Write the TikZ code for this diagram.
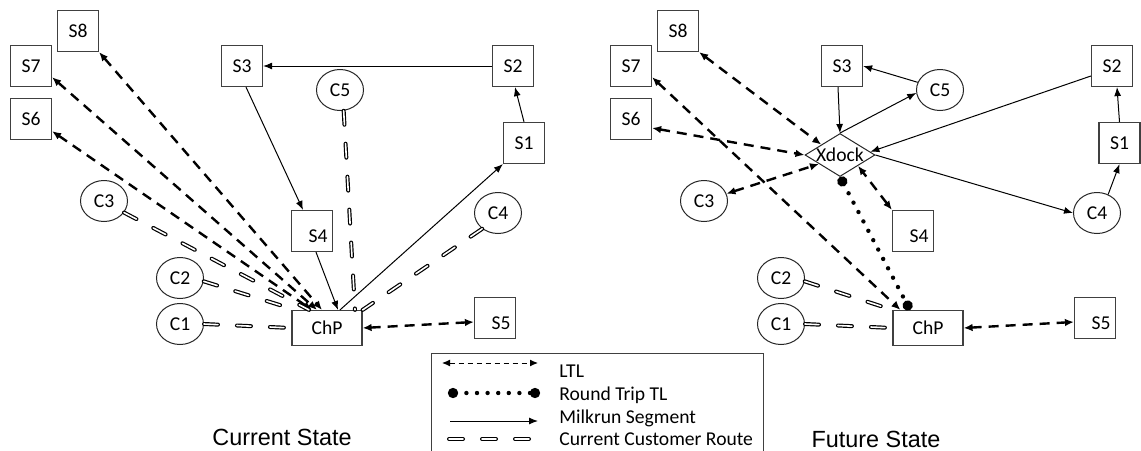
\documentclass[tikz,border=0pt]{standalone}
\usepackage{fontspec}
\setmainfont{Carlito}
\newfontfamily\arialfont{Liberation Sans}
\usetikzlibrary{positioning, arrows.meta, shapes.geometric, calc}

\newcommand{\lowright}[1]{\raisebox{-2.5pt}[6pt][0pt]{\hspace*{6pt}#1}}

\begin{document}
\begin{tikzpicture}[
    x=0.5pt, y=-0.5pt,
    font=\fontsize{9.8}{11.5}\selectfont,
    supbox/.style={draw=black!75, line width=0.6pt, rectangle, minimum size=20.5pt, inner sep=0pt},
    custnode/.style={draw=black!85, line width=0.5pt, ellipse, minimum width=23.5pt, minimum height=20.5pt, inner sep=0pt},
    hubbox/.style={draw=black!75, line width=0.6pt, rectangle, minimum width=35pt, minimum height=17.5pt, inner sep=0pt},
    dockbox/.style={draw=black!85, line width=0.5pt, diamond, aspect=1.63, minimum width=35pt, minimum height=21.5pt, inner sep=0pt},
    ltl/.style={{Latex[length=4.5pt,width=3.8pt]}-{Latex[length=4.5pt,width=3.8pt]}, line width=1.2pt, dash pattern=on 5pt off 3.5pt},
    ltlkey/.style={{Latex[length=4pt,width=3.5pt]}-{Latex[length=4pt,width=3.5pt]}, line width=0.5pt, dash pattern=on 2.5pt off 2pt},
    milk/.style={-{Latex[length=4.5pt,width=3.5pt]}, line width=0.5pt},
    route/.style={draw=black, line width=0.6pt, double=white, double distance=0.8pt, line cap=round, dash pattern=on 7pt off 9.5pt},
    trip/.style={line width=2.2pt, line cap=round, dash pattern=on 0pt off 5.3pt, {Circle[length=5pt]}-{Circle[length=5pt]}},
    stitle/.style={font=\arialfont\fontsize{11.7}{14}\selectfont}
]
    \useasboundingbox (0,0) rectangle (1141,450);

    % current state
    \node[supbox] (s8L) at (78,31) {S8};
    \node[supbox] (s7L) at (31,66) {S7};
    \node[supbox] (s6L) at (31,119) {S6};
    \node[supbox] (s3L) at (242,66) {S3};
    \node[supbox] (s2L) at (513,66) {S2};
    \node[supbox] (s1L) at (524,143) {S1};
    \node[supbox] (s4L) at (312,231) {\lowright{S4}};
    \node[supbox] (s5L) at (495,318) {\lowright{S5}};
    \node[custnode] (c5L) at (340,90) {C5};
    \node[custnode] (c3L) at (104,201) {C3};
    \node[custnode] (c4L) at (498,213) {C4};
    \node[custnode] (c2L) at (180,278) {C2};
    \node[custnode] (c1L) at (180,324) {C1};
    \node[hubbox] (chpL) at (327,328) {ChP};

    \draw[ltl] (s8L.south east) -- ($(chpL.north)+(-5,0)$);
    \draw[ltl] (s7L.-28) -- ($(chpL.north)+(-10,0)$);
    \draw[ltl] (s6L.-30) -- ($(chpL.north)+(-15,0)$);
    \draw[ltl] (chpL.east) -- ($(s5L.west)+(0,4)$);
    \draw[route] (c3L.-30) -- ($(chpL.north)+(-18,0)$);
    \draw[route] (c2L.-8) -- ($(chpL.north west)+(4,0)$);
    \draw[route] (c1L.east) -- (chpL.west);
    \draw[route] (c5L.-80) -- ($(chpL.north)+(28,0)$);
    \draw[route] (c4L.-135) -- (chpL.north east);
    \draw[milk] ($(chpL.north)+(13,0)$) -- (s1L.south west);
    \draw[milk] (s1L.north) -- ($(s2L.south)+(2,0)$);
    \draw[milk] (s2L.west) -- (s3L.east);
    \draw[milk] ($(s3L.south)+(4,0)$) -- ($(s4L.north)+(-9,0)$);
    \draw[milk] ($(s4L.south)+(4,0)$) -- ($(chpL.north)+(11,0)$);

    % future state
    \node[supbox] (s8R) at (678,31) {S8};
    \node[supbox] (s7R) at (631,66) {S7};
    \node[supbox] (s6R) at (631,119) {S6};
    \node[supbox] (s3R) at (842,66) {S3};
    \node[supbox] (s2R) at (1112,66) {S2};
    \node[supbox] (s1R) at (1119.5,143) {S1};
    \node[supbox] (s4R) at (913,231) {\lowright{S4}};
    \node[supbox] (s5R) at (1095,318) {\lowright{S5}};
    \node[custnode] (c5R) at (940,90) {C5};
    \node[custnode] (c3R) at (704,201) {C3};
    \node[custnode] (c4R) at (1097,213) {C4};
    \node[custnode] (c2R) at (781,278) {C2};
    \node[custnode] (c1R) at (781,324) {C1};
    \node[hubbox] (chpR) at (928,328) {ChP};
    \node[dockbox] (xdock) at (840,155) {Xdock};

    \draw[ltl] (s8R.south east) -- (xdock.151);
    \draw[ltl] ($(s6R.east)+(0,9)$) -- (xdock.west);
    \draw[ltl] (c3R.18) -- (xdock.203);
    \draw[ltl] (s7R.-28) -- ($(chpR.north west)+(8,0)$);
    \draw[ltl] (s4R.north west) -- (xdock.-31);
    \draw[ltl] (chpR.east) -- ($(s5R.west)+(0,4)$);
    \draw[trip] (xdock.south) -- ($(chpR.north)+(-18,0)$);
    \draw[route] (c2R.-8) -- (chpR.north west);
    \draw[route] (c1R.east) -- (chpR.west);
    \draw[milk] ($(s3R.south)+(-4,0)$) -- (xdock.north);
    \draw[milk] (xdock.north) -- (c5R.187);
    \draw[milk] (c5R.161) -- (s3R.east);
    \draw[milk] ($(s2R.west)+(0,10)$) -- (xdock.6);
    \draw[milk] (xdock.east) -- (c4R.west);
    \draw[milk] (c4R.59) -- (s1R.south);
    \draw[milk] (s1R.north) -- ($(s2R.south)+(5,0)$);

    % legend
    \node[draw=black!75, line width=0.5pt, minimum width=166pt, minimum height=60pt, inner sep=0pt, anchor=north west] (legend) at (431,353) {};
    \coordinate (ltlA) at (442,363);
    \coordinate (ltlB) at (538,363);
    \coordinate (tripA) at (448,393);
    \coordinate (tripB) at (540,393);
    \coordinate (milkA) at (450,421);
    \coordinate (milkB) at (538,421);
    \coordinate (routeA) at (449,439);
    \coordinate (routeB) at (535,439);
    \draw[ltlkey] (ltlA) -- (ltlB);
    \draw[trip] (tripA) -- (tripB);
    \draw[milk] (milkA) -- (milkB);
    \draw[route] (routeA) -- (routeB);
    \node[anchor=base west, inner sep=0pt] (ltlText) at (559,377) {LTL};
    \node[anchor=base west, inner sep=0pt] (tripText) at (559,400) {Round Trip TL};
    \node[anchor=base west, inner sep=0pt] (milkText) at (559,423) {Milkrun Segment};
    \node[anchor=base west, inner sep=0pt] (routeText) at (559,445) {Current Customer Route};

    \node[stitle] (curTitle) at (282,437) {Current State};
    \node[stitle] (futTitle) at (876,439) {Future State};
\end{tikzpicture}
\end{document}
